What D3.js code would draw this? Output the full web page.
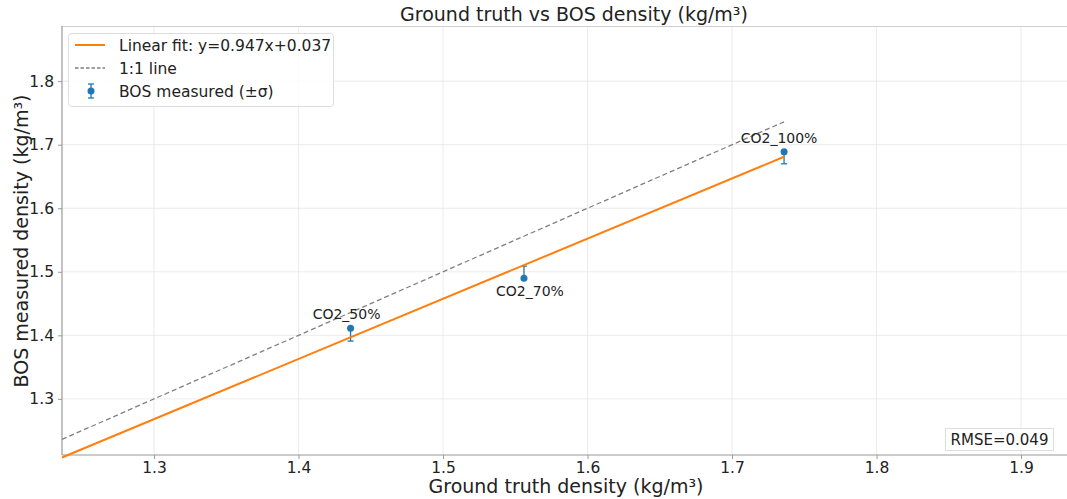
<!DOCTYPE html>
<html><head><meta charset="utf-8">
<script src="https://cdn.jsdelivr.net/npm/d3@7"></script>
<style>
body{margin:0;background:#fff;}
text{font-family:"DejaVu Sans",sans-serif;fill:#222;}
</style></head>
<body><svg id="c" width="1067" height="499"></svg>
<script>
const labels = ["CO2_50%","CO2_70%","CO2_100%"];
const groundTruth = [1.436, 1.556, 1.736];
const measured = [1.411, 1.490, 1.689];
const errLower = [0.020, 0.000, 0.019];
const errUpper = [0.000, 0.019, 0.000];
const fitSlope = 0.947, fitIntercept = 0.037;
const xTicks = [1.3,1.4,1.5,1.6,1.7,1.8,1.9];
const yTicks = [1.3,1.4,1.5,1.6,1.7,1.8];
const xDomain = [1.2363, 1.9318];
const yDomain = [1.2117, 1.8868];
const rmse = "RMSE=0.049";

const svg = d3.select("#c");
const L=62, R=1067, T=26, B=455;
const x = d3.scaleLinear().domain(xDomain).range([L,R]);
const y = d3.scaleLinear().domain(yDomain).range([B,T]);

// grid
svg.append("g").selectAll("line").data(xTicks).join("line")
  .attr("x1",d=>x(d)).attr("x2",d=>x(d)).attr("y1",T).attr("y2",B)
  .attr("stroke","#e6e6e6").attr("stroke-width",0.8);
svg.append("g").selectAll("line").data(yTicks).join("line")
  .attr("y1",d=>y(d)).attr("y2",d=>y(d)).attr("x1",L).attr("x2",R)
  .attr("stroke","#e6e6e6").attr("stroke-width",0.8);

// spines
svg.append("line").attr("x1",L).attr("x2",R).attr("y1",T+0.5).attr("y2",T+0.5).attr("stroke","#cfcfcf").attr("stroke-width",1.2);
svg.append("line").attr("x1",L).attr("x2",L).attr("y1",T).attr("y2",B).attr("stroke","#999").attr("stroke-width",1.2);
svg.append("line").attr("x1",L).attr("x2",R).attr("y1",B).attr("y2",B).attr("stroke","#999").attr("stroke-width",1.2);

// axes
const xa = svg.append("g").attr("transform",`translate(0,${B})`)
  .call(d3.axisBottom(x).tickValues(xTicks).tickFormat(d3.format(".1f")).tickSize(4).tickPadding(3));
const ya = svg.append("g").attr("transform",`translate(${L},0)`)
  .call(d3.axisLeft(y).tickValues(yTicks).tickFormat(d3.format(".1f")).tickSize(4).tickPadding(4));
[xa,ya].forEach(a=>{a.select(".domain").remove();
  a.selectAll("line").attr("stroke","#999");
  a.selectAll("text").attr("font-size",15.5).style("font-family","DejaVu Sans").attr("fill","#222");});

const xMaxData = d3.max(groundTruth);
// 1:1 line
svg.append("line").attr("x1",x(xDomain[0])).attr("y1",y(xDomain[0])).attr("x2",x(xMaxData)).attr("y2",y(xMaxData))
  .attr("stroke","#808080").attr("stroke-width",1.3).attr("stroke-dasharray","5,3");

// errorbars
const eb = svg.append("g").attr("stroke","#1f77b4").attr("stroke-width",1.3);
groundTruth.forEach((g,i)=>{
  const y0=y(measured[i]-errLower[i]), y1=y(measured[i]+errUpper[i]);
  eb.append("line").attr("x1",x(g)).attr("x2",x(g)).attr("y1",y0).attr("y2",y1);
  eb.append("line").attr("x1",x(g)-3).attr("x2",x(g)+3).attr("y1",y0).attr("y2",y0);
  eb.append("line").attr("x1",x(g)-3).attr("x2",x(g)+3).attr("y1",y1).attr("y2",y1);
});

// fit line
svg.append("line").attr("x1",x(xDomain[0])).attr("y1",y(fitSlope*xDomain[0]+fitIntercept))
  .attr("x2",x(xMaxData)).attr("y2",y(fitSlope*xMaxData+fitIntercept))
  .attr("stroke","#ff7f0e").attr("stroke-width",2);

// points
svg.append("g").selectAll("circle").data(groundTruth).join("circle")
  .attr("cx",d=>x(d)).attr("cy",(d,i)=>y(measured[i])).attr("r",3.5).attr("fill","#1f77b4");

// point labels (offsets in px)
const lblDx = [-4, 6, -5], lblDy = [-9, 18, -9];
svg.append("g").selectAll("text").data(labels).join("text")
  .attr("x",(d,i)=>x(groundTruth[i])+lblDx[i]).attr("y",(d,i)=>y(measured[i])+lblDy[i])
  .attr("text-anchor","middle").attr("font-size",14).text(d=>d);

// legend
const lg = svg.append("g");
lg.append("rect").attr("x",68.5).attr("y",33.5).attr("width",265).attr("height",73).attr("rx",3)
  .attr("fill","#fff").attr("fill-opacity",0.85).attr("stroke","#ddd");
lg.append("line").attr("x1",75).attr("x2",105).attr("y1",45).attr("y2",45).attr("stroke","#ff7f0e").attr("stroke-width",2);
lg.append("line").attr("x1",75).attr("x2",105).attr("y1",68).attr("y2",68).attr("stroke","#808080").attr("stroke-width",1.3).attr("stroke-dasharray","3.5,2");
lg.append("line").attr("x1",91).attr("x2",91).attr("y1",84).attr("y2",98).attr("stroke","#1f77b4").attr("stroke-width",1.3);
lg.append("line").attr("x1",88).attr("x2",94).attr("y1",84).attr("y2",84).attr("stroke","#1f77b4").attr("stroke-width",1.3);
lg.append("line").attr("x1",88).attr("x2",94).attr("y1",98).attr("y2",98).attr("stroke","#1f77b4").attr("stroke-width",1.3);
lg.append("circle").attr("cx",91).attr("cy",91).attr("r",3.5).attr("fill","#1f77b4");
const legTexts = ["Linear fit: y="+fitSlope+"x+"+fitIntercept, "1:1 line", "BOS measured (±σ)"];
lg.selectAll("text.l").data(legTexts).join("text").attr("class","l")
  .attr("x",119).attr("y",(d,i)=>51+i*23).attr("font-size",15.5).text(d=>d);

// RMSE box
svg.append("rect").attr("x",945.5).attr("y",428.5).attr("width",108).attr("height",22)
  .attr("fill","#fff").attr("stroke","#ddd");
svg.append("text").attr("x",999.5).attr("y",445).attr("text-anchor","middle").attr("font-size",15).text(rmse);

// titles
svg.append("text").attr("x",574).attr("y",21).attr("text-anchor","middle").attr("font-size",19).text("Ground truth vs BOS density (kg/m³)");
svg.append("text").attr("x",566).attr("y",493).attr("text-anchor","middle").attr("font-size",19).text("Ground truth density (kg/m³)");
svg.append("text").attr("transform","translate(28,241) rotate(-90)").attr("text-anchor","middle").attr("font-size",19).text("BOS measured density (kg/m³)");
</script></body></html>
